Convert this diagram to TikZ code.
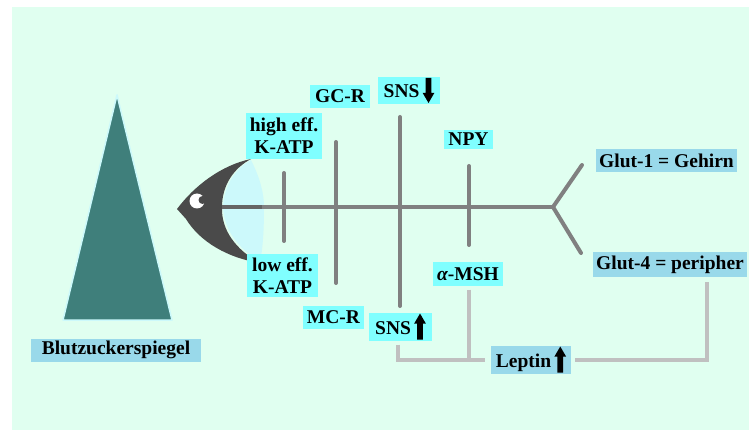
\documentclass[tikz,border=0pt]{standalone}
\usepackage{fontspec}
\setmainfont{Liberation Serif}
\usetikzlibrary{calc}
\definecolor{FishBg}{HTML}{E0FFF0}
\definecolor{FishLabel}{HTML}{80FFFF}
\definecolor{FishTag}{HTML}{99D9EA}
\definecolor{FishBone}{HTML}{808080}
\definecolor{FishHead}{HTML}{4A4A4A}
\definecolor{FishLink}{HTML}{C0C0C0}
\definecolor{SugarTeal}{HTML}{3F7F7B}
\definecolor{MouthGlow}{HTML}{CCF9FB}

% small block arrows next to SNS / Leptin
\newcommand{\arrowup}{\tikz[baseline=0pt,x=1pt,y=1pt]
  \fill (-2.8,-5) -- (-2.8,11) -- (-5.8,11) -- (0,21) -- (5.8,11) -- (2.8,11) -- (2.8,-5) -- cycle;}
\newcommand{\arrowdown}{\tikz[baseline=0pt,x=1pt,y=1pt]
  \fill (-2.8,20) -- (-2.8,5) -- (-5.8,5) -- (0,-5) -- (5.8,5) -- (2.8,5) -- (2.8,20) -- cycle;}

\begin{document}
\begin{tikzpicture}[x=1pt,y=-1pt]
  \tikzset{
    lbl/.style={fill=FishLabel,inner xsep=3pt,inner ysep=1pt,minimum height=23pt,
      align=center,font=\fontsize{19.5}{22}\selectfont\bfseries},
    tag/.style={lbl,fill=FishTag},
    bone/.style={draw=FishBone,line width=4pt,line cap=round},
    link/.style={draw=FishLink,line width=4pt}
  }
  \useasboundingbox (0,0) rectangle (749,430);
  \fill[FishBg] (12,7) rectangle (749,430);

  % blood sugar level
  \filldraw[fill=SugarTeal,draw=MouthGlow,line width=1.5pt,line join=round]
    (117,95) -- (172,320) -- (63,320) -- cycle;
  \node[tag,minimum width=170pt] (blutz) at (116,350) {Blutzuckerspiegel};

  % fish head
  \fill[MouthGlow] (251,160) .. controls (261,180) and (264,195) .. (264,207)
    .. controls (264,228) and (263,248) .. (260,262)
    .. controls (238,248) and (224,230) .. (223,207)
    .. controls (224,185) and (236,168) .. (251,160) -- cycle;
  \fill[FishHead] (251,159) .. controls (222,165) and (195,185) .. (177,209)
    -- (186,219) .. controls (200,242) and (228,258) .. (260,263)
    .. controls (236,250) and (221,230) .. (222,207)
    .. controls (222,185) and (234,168) .. (251,159) -- cycle;
  \fill[white] (197,201) circle (7.5);
  \fill[FishHead] (202.5,200) circle (4);

  % spine, tail and ribs
  \draw[line width=4pt,draw=FishHead!85] (222,207) -- (262,207);
  \draw[bone,line cap=butt] (262,207) -- (553,207);
  \draw[bone,line join=round] (582,165) -- (553,207) -- (581,253);
  \draw[bone] (284,173) -- (284,241);
  \draw[bone] (336,142) -- (336,283);
  \draw[bone] (400,117) -- (400,306);
  \draw[bone] (469,166) -- (469,245);

  % influences
  \node[lbl,minimum width=76pt,minimum height=46pt] (highEff) at (284,136) {high eff.\\K-ATP};
  \node[lbl,minimum width=71pt,minimum height=43pt] (lowEff) at (282.5,275.5) {low eff.\\K-ATP};
  \node[lbl,minimum width=60pt] (gcr) at (340,96.5) {GC-R};
  \node[lbl,minimum width=62pt] (snsDown) at (409,90.5) {SNS\,\arrowdown};
  \node[lbl,minimum width=49pt,minimum height=19pt] (npy) at (468.5,139.5) {NPY};
  \node[lbl,minimum width=70pt] (amsh) at (468,274) {{\itshape α}-MSH};
  \node[lbl,minimum width=61pt] (mcr) at (333.5,317) {MC-R};
  \node[lbl,minimum width=63pt] (snsUp) at (400.5,326.5) {SNS\,\arrowup};
  \node[tag,minimum width=80pt,minimum height=25pt] (leptin) at (531,359.5) {Leptin\,\arrowup};
  \node[tag,minimum width=141pt] (glut1) at (666.5,161) {Glut-1 = Gehirn};
  \node[tag,minimum width=150pt,minimum height=25pt] (glut4) at (670,264.5) {Glut-4 = peripher};

  % leptin feedback lines
  \draw[link] ([xshift=-2.5pt,yshift=-4pt]snsUp.south) |- ([xshift=-6pt]leptin.west);
  \draw[link] ([xshift=1pt,yshift=-4pt]amsh.south) -- ([xshift=1pt]amsh.south |- leptin.west);
  \draw[link] ([xshift=37pt,yshift=-5pt]glut4.south) |- ([xshift=4pt]leptin.east);
\end{tikzpicture}
\end{document}
